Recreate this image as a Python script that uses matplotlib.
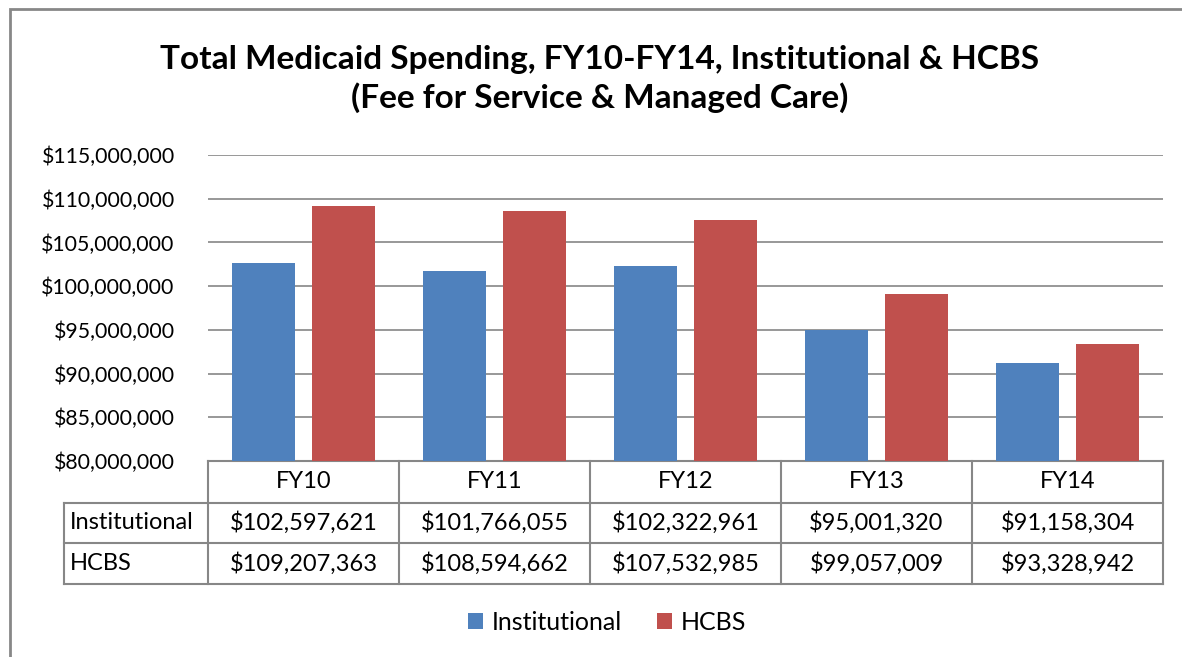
import matplotlib.pyplot as plt
import matplotlib.ticker as mticker
from matplotlib.patches import Rectangle

plt.rcParams['font.family'] = ['Lato', 'DejaVu Sans']

# data
years = ["FY10", "FY11", "FY12", "FY13", "FY14"]
institutional = [102597621, 101766055, 102322961, 95001320, 91158304]
hcbs = [109207363, 108594662, 107532985, 99057009, 93328942]
series_names = ["Institutional", "HCBS"]
colors = ["#4F81BD", "#C0504D"]
border = "#878787"

W, H = 1182, 657
fig = plt.figure(figsize=(W / 100, H / 100), dpi=100)
ax = fig.add_axes([208 / W, 1 - 461 / H, (1163 - 208) / W, (461 - 155) / H])

x = list(range(len(years)))
bw = 0.33
off = (bw + 0.084) / 2
ax.bar([i - off for i in x], institutional, bw, color=colors[0], zorder=3, label=series_names[0])
ax.bar([i + off for i in x], hcbs, bw, color=colors[1], zorder=3, label=series_names[1])

ax.set_xlim(-0.5, len(years) - 0.5)
ax.set_ylim(80000000, 115000000)
ax.yaxis.set_major_locator(mticker.MultipleLocator(5000000))
ax.yaxis.set_major_formatter(mticker.FuncFormatter(lambda v, p: "${:,.0f}".format(v)))
ax.grid(axis="y", color="#868686", linewidth=1.2, zorder=0)
for s in ax.spines.values():
    s.set_visible(False)
ax.tick_params(axis="y", length=0, pad=24, labelsize=15.3)
ax.set_xticks([])

# data table under the plot
tr = ax.get_xaxis_transform()
row_b = [0, -0.137, -0.268, -0.402]
left = -1.254
lw = 1.5
# horizontal lines
ax.plot([-0.5, len(years) - 0.5], [row_b[0]] * 2, transform=tr, color=border, lw=lw, clip_on=False)
for yb in row_b[1:]:
    ax.plot([left, len(years) - 0.5], [yb] * 2, transform=tr, color=border, lw=lw, clip_on=False)
# vertical lines
ax.plot([left, left], [row_b[1], row_b[3]], transform=tr, color=border, lw=lw, clip_on=False)
for i in range(len(years) + 1):
    ax.plot([i - 0.5, i - 0.5], [row_b[0], row_b[3]], transform=tr, color=border, lw=lw, clip_on=False)

fs = 17
for i, yr in enumerate(years):
    ax.text(i, (row_b[0] + row_b[1]) / 2, yr, transform=tr, ha="center", va="center", fontsize=fs)
    ax.text(i, (row_b[1] + row_b[2]) / 2, "${:,}".format(institutional[i]), transform=tr,
            ha="center", va="center", fontsize=fs)
    ax.text(i, (row_b[2] + row_b[3]) / 2, "${:,}".format(hcbs[i]), transform=tr,
            ha="center", va="center", fontsize=fs)
ax.text(left + 0.03, (row_b[1] + row_b[2]) / 2, series_names[0], transform=tr, ha="left", va="center", fontsize=fs)
ax.text(left + 0.03, (row_b[2] + row_b[3]) / 2, series_names[1], transform=tr, ha="left", va="center", fontsize=fs)

fig.text(600 / W, 1 - 79 / H, "Total Medicaid Spending, FY10-FY14, Institutional & HCBS\n(Fee for Service & Managed Care)",
         ha="center", va="center", fontsize=24, fontweight="bold", linespacing=1.3)

fig.legend(loc="center", bbox_to_anchor=(607 / W, 1 - 622 / H), ncol=2, frameon=False,
           fontsize=18, handlelength=0.6, handleheight=0.6, columnspacing=1.4, handletextpad=0.35)

# chart border
fig.patches.append(Rectangle((10 / W, -0.05), 1.1, 1 - 9 / H + 0.05, transform=fig.transFigure,
                             fill=False, edgecolor=border, lw=2))

fig.savefig("out.png", dpi=100)
